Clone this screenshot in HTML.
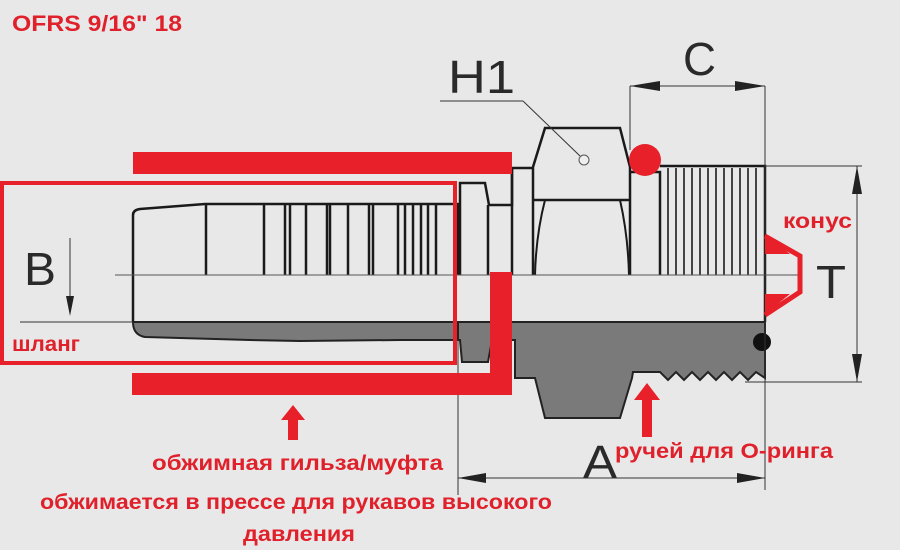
<!DOCTYPE html>
<html><head><meta charset="utf-8"><style>
html,body{margin:0;padding:0;background:#e8e8e8;}
svg{display:block}
text{font-family:"Liberation Sans","DejaVu Sans",sans-serif}
.r{fill:#e0202a;font-weight:bold}
.d{fill:#2a2a2a}
</style></head><body>
<svg width="900" height="550" viewBox="0 0 900 550" xmlns="http://www.w3.org/2000/svg">
<rect width="900" height="550" fill="#e8e8e8"/>
<!-- gray lower sections -->
<path d="M133,322 L458,322 L458,340 L460,340 L462,362 L488,362 L492,340 L515,340 L515,378 L535,378 L545,418 L620,418 L632,378 L633,372 L660,372 L668,380 L676,372 L684,380 L692,372 L700,380 L708,372 L716,380 L724,372 L732,380 L740,372 L748,380 L756,372 L765,378 L765,322 Z" fill="#7a7a7a" stroke="#222" stroke-width="2"/>
<path d="M133,322 L458,322 L458,340 L400,340 L300,341 L250,340 L145,337 Q133,335 133,322 Z" fill="#7a7a7a" stroke="#222" stroke-width="2"/>
<!-- hose end body -->
<path d="M133,322 L133,215 Q133,210 140,209 L205,204 L458,204 L458,275" fill="none" stroke="#1a1a1a" stroke-width="2.5"/>
<g stroke="#1a1a1a" stroke-width="2.5">
<line x1="206" y1="204" x2="206" y2="275"/><line x1="264" y1="204" x2="264" y2="275"/>
<line x1="285" y1="204" x2="285" y2="275"/><line x1="290" y1="204" x2="290" y2="275"/>
<line x1="306" y1="204" x2="306" y2="275"/><line x1="327" y1="204" x2="327" y2="275"/>
<line x1="330" y1="204" x2="330" y2="275"/><line x1="348" y1="204" x2="348" y2="275"/>
<line x1="369" y1="204" x2="369" y2="275"/><line x1="373" y1="204" x2="373" y2="275"/>
<line x1="398" y1="204" x2="398" y2="275"/><line x1="405" y1="204" x2="405" y2="275"/>
<line x1="413" y1="204" x2="413" y2="275"/><line x1="421" y1="204" x2="421" y2="275"/>
<line x1="428" y1="204" x2="428" y2="275"/><line x1="436" y1="204" x2="436" y2="275"/>
</g>
<!-- nipple collar -->
<path d="M460,275 L460,183 L485,183 L489,205 L512,205 L512,168 L533,168" fill="none" stroke="#1a1a1a" stroke-width="2.5"/>
<line x1="488" y1="205" x2="488" y2="275" stroke="#1a1a1a" stroke-width="2.5"/>
<line x1="512" y1="168" x2="512" y2="275" stroke="#1a1a1a" stroke-width="2.5"/>
<!-- hex -->
<path d="M533,275 L533,200 L533,167 L545,128 L620,128 L630,167 L630,275" fill="none" stroke="#1a1a1a" stroke-width="2.5"/>
<line x1="533" y1="200" x2="630" y2="200" stroke="#1a1a1a" stroke-width="2.5"/>
<path d="M545,200 Q536,235 535,275 M620,200 Q628,235 629,275" fill="none" stroke="#1a1a1a" stroke-width="2"/>
<path d="M630,172 L660,172 L660,275" fill="none" stroke="#1a1a1a" stroke-width="2.5"/>
<!-- thread -->
<path d="M660,166 L765,166 L765,275" fill="none" stroke="#1a1a1a" stroke-width="2.5"/>
<g stroke="#1a1a1a" stroke-width="1.6">
<line x1="668" y1="168" x2="668" y2="275"/><line x1="676" y1="168" x2="676" y2="275"/><line x1="684" y1="168" x2="684" y2="275"/>
<line x1="692" y1="168" x2="692" y2="275"/><line x1="700" y1="168" x2="700" y2="275"/><line x1="708" y1="168" x2="708" y2="275"/>
<line x1="716" y1="168" x2="716" y2="275"/><line x1="724" y1="168" x2="724" y2="275"/><line x1="732" y1="168" x2="732" y2="275"/>
<line x1="740" y1="168" x2="740" y2="275"/><line x1="748" y1="168" x2="748" y2="275"/><line x1="756" y1="168" x2="756" y2="275"/>
</g>
<line x1="765" y1="275" x2="765" y2="322" stroke="#1a1a1a" stroke-width="2.5"/>
<!-- centerline -->
<line x1="115" y1="275" x2="800" y2="275" stroke="#555" stroke-width="1"/>
<!-- o-ring -->
<circle cx="762" cy="342" r="9" fill="#111"/>
<!-- dimension lines -->
<g stroke="#333" stroke-width="1" fill="none">
<line x1="630" y1="86" x2="765" y2="86"/><line x1="630" y1="86" x2="630" y2="150"/><line x1="765" y1="86" x2="765" y2="490"/>
<line x1="765" y1="166" x2="862" y2="166"/><line x1="745" y1="382" x2="862" y2="382"/><line x1="857" y1="166" x2="857" y2="382"/>
<line x1="458" y1="340" x2="458" y2="495"/><line x1="458" y1="478" x2="765" y2="478"/>
<line x1="440" y1="101" x2="523" y2="101"/><line x1="523" y1="101" x2="580" y2="156"/>
<line x1="20" y1="322" x2="133" y2="322"/><line x1="70" y1="238" x2="70" y2="312"/>
</g>
<circle cx="584" cy="160" r="5" fill="#eee" stroke="#555"/>
<g fill="#222">
<polygon points="630,86 660,81 660,91"/><polygon points="765,86 735,81 735,91"/>
<polygon points="857,166 852,194 862,194"/><polygon points="857,382 852,354 862,354"/>
<polygon points="458,478 486,473 486,483"/><polygon points="765,478 737,473 737,483"/>
<polygon points="70,316 66,296 74,296"/>
</g>
<!-- red overlays -->
<rect x="133" y="152" width="379" height="22" fill="#e8202a"/>
<rect x="2" y="183" width="453" height="180" fill="none" stroke="#e8202a" stroke-width="4"/>
<rect x="132" y="373" width="380" height="22" fill="#e8202a"/>
<rect x="490" y="272" width="22" height="123" fill="#e8202a"/>
<circle cx="645" cy="160" r="16" fill="#e8202a"/>
<path d="M765,236 L800,256 L800,292 L765,315" fill="none" stroke="#e8202a" stroke-width="5"/>
<polygon points="765,234 790,254 765,254" fill="#e8202a"/>
<polygon points="765,294 790,294 765,314" fill="#e8202a"/>
<polygon points="293,405 305,420 298,420 298,440 288,440 288,420 281,420" fill="#e8202a"/>
<polygon points="647,383 660,400 652,400 652,437 642,437 642,400 634,400" fill="#e8202a"/>
<!-- text -->
<text x="12" y="31" class="r" font-size="22" textLength="170" lengthAdjust="spacingAndGlyphs">OFRS 9/16" 18</text>
<text x="448" y="93" class="d" font-size="46" textLength="67" lengthAdjust="spacingAndGlyphs">H1</text>
<text x="683" y="75" class="d" font-size="46" textLength="33" lengthAdjust="spacingAndGlyphs">C</text>
<text x="24" y="285" class="d" font-size="46" textLength="32" lengthAdjust="spacingAndGlyphs">B</text>
<text x="816" y="298" class="d" font-size="46" textLength="30" lengthAdjust="spacingAndGlyphs">T</text>
<text x="583" y="478" class="d" font-size="46" textLength="34" lengthAdjust="spacingAndGlyphs">A</text>
<text x="12" y="351" class="r" font-size="21" textLength="68" lengthAdjust="spacingAndGlyphs">шланг</text>
<text x="783" y="228" class="r" font-size="21" textLength="69" lengthAdjust="spacingAndGlyphs">конус</text>
<text x="615" y="458" class="r" font-size="21" textLength="218" lengthAdjust="spacingAndGlyphs">ручей для О-ринга</text>
<text x="152" y="470" class="r" font-size="21" textLength="291" lengthAdjust="spacingAndGlyphs">обжимная гильза/муфта</text>
<text x="40" y="509" class="r" font-size="21" textLength="512" lengthAdjust="spacingAndGlyphs">обжимается в прессе для рукавов высокого</text>
<text x="243" y="541" class="r" font-size="21" textLength="112" lengthAdjust="spacingAndGlyphs">давления</text>
</svg>
</body></html>
